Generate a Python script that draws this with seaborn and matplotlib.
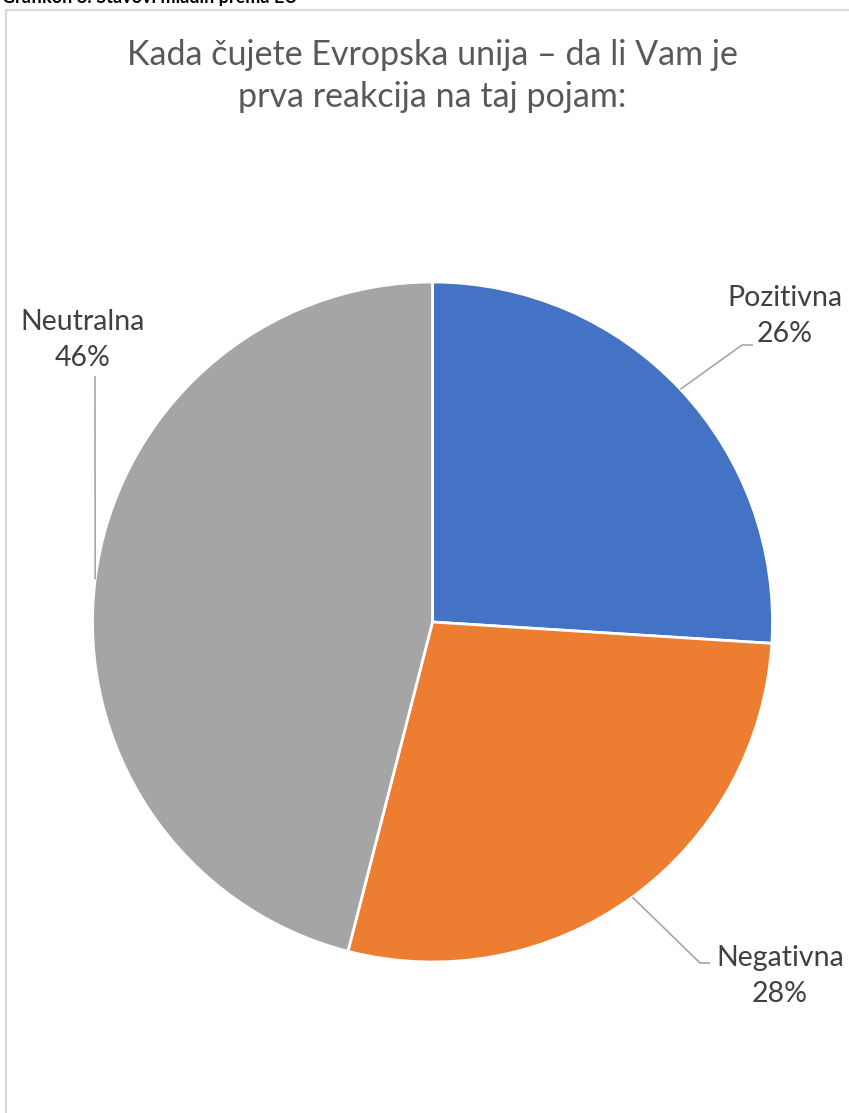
import numpy as np
import matplotlib.pyplot as plt
import matplotlib.patches as mpatches
import seaborn as sns

# Data -----------------------------------------------------------------
labels = ["Pozitivna", "Negativna", "Neutralna"]
shares = [26, 28, 46]
colors = ["#4472C4", "#ED7D31", "#A5A5A5"]

title = "Kada čujete Evropska unija – da li Vam je\nprva reakcija na taj pojam:"
caption = "Grafikon 8: Stavovi mladih prema EU"

# Style ----------------------------------------------------------------
sns.set_style("white")
plt.rcParams["font.family"] = ["Lato", "DejaVu Sans"]
c_text = "#404040"
c_title = "#595959"
c_line = "#A6A6A6"

W, H = 849, 1113
cx, cy, r = 432.5, 622, 340  # pie centre / radius in pixels

fig = plt.figure(figsize=(W / 100, H / 100), dpi=100)
ax = fig.add_axes([0, 0, 1, 1])

wedges, _ = ax.pie(shares, colors=colors, startangle=90, counterclock=False,
                   wedgeprops={"edgecolor": "white", "linewidth": 2})

# axis limits so that radius 1 = r pixels
ax.set_xlim(-cx / r, (W - cx) / r)
ax.set_ylim(-(H - cy) / r, cy / r)
ax.set_aspect("auto")
ax.axis("off")


def px(x, y):
    return (x - cx) / r, (cy - y) / r


# Leader lines + labels ---------------------------------------------------
def mid_point(w):
    a = np.deg2rad((w.theta1 + w.theta2) / 2)
    return np.cos(a), np.sin(a)

# (elbow, end of line, text position) in pixels
layout = {
    "Pozitivna": [(742, 345), (753, 345), (785, 316)],
    "Negativna": [(700, 963), (710, 963), (780, 976)],
    "Neutralna": [None, (95, 376), (83, 340)],
}

for w, lab, val in zip(wedges, labels, shares):
    sx, sy = mid_point(w)
    elbow, end, tpos = layout[lab]
    pts = [(sx, sy)]
    if elbow is not None:
        pts.append(px(*elbow))
    pts.append(px(*end))
    xs, ys = zip(*pts)
    ax.plot(xs, ys, color=c_line, lw=1.2, solid_capstyle="butt")
    tx, ty = px(*tpos)
    ax.text(tx, ty, f"{lab}\n{val}%", ha="center", va="center",
            fontsize=20.5, color=c_text, linespacing=1.45)

# Title -----------------------------------------------------------------
fig.text(432 / W, 1 - 76 / H, title, ha="center", va="center",
         fontsize=24.5, color=c_title, linespacing=1.38)

# clipped caption at very top + chart frame
fig.text(2 / W, 1 - 3 / H, caption, ha="left", va="baseline",
         fontsize=13, color="black", fontweight="bold")
frame = mpatches.Rectangle((6 / W, -0.01), 1.1, 1 - 10 / H + 0.01,
                           transform=fig.transFigure, fill=False,
                           edgecolor="#D9D9D9", linewidth=1.6)
fig.patches.append(frame)

fig.savefig("out.png", dpi=100)
